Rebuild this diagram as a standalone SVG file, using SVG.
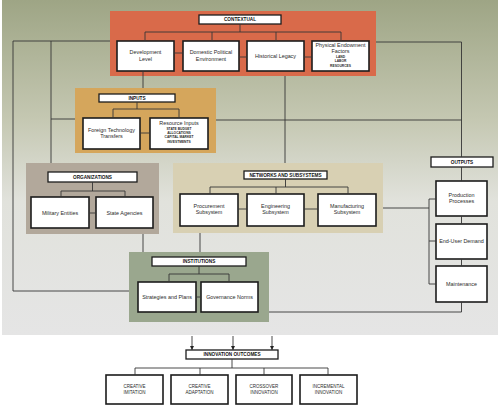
<svg xmlns="http://www.w3.org/2000/svg" width="500" height="407" viewBox="0 0 500 407">
<defs>
<linearGradient id="bg" x1="0" y1="0" x2="0" y2="335" gradientUnits="userSpaceOnUse">
<stop offset="0" stop-color="#9ea585"/>
<stop offset="0.35" stop-color="#c4c7b1"/>
<stop offset="0.6" stop-color="#e1e2dc"/>
<stop offset="1" stop-color="#e5e5e5"/>
</linearGradient>
<marker id="ah" viewBox="0 0 6 6" refX="6" refY="3" markerWidth="4.5" markerHeight="4.5" markerUnits="userSpaceOnUse" orient="auto">
<path d="M0,0 L6,3 L0,6 z" fill="#222"/>
</marker>
<style>
.box{fill:#fff;stroke:#1c1c1c;stroke-width:1.6}
.tbox{fill:#fff;stroke:#1c1c1c;stroke-width:1.3}
.t{font-family:"Liberation Sans",Arial,sans-serif;font-size:5.4px;fill:#2a2a2a;text-anchor:middle}
.h{font-weight:bold;font-size:4.7px;fill:#111}
.s{font-weight:bold;font-size:3.3px}
.o{font-size:4.5px}
.ln{fill:none;stroke:#353535;stroke-width:0.9}
</style>
</defs>
<rect x="0" y="0" width="500" height="407" fill="#fff"/>
<rect x="2" y="0" width="496" height="335" fill="url(#bg)"/>

<g id="contextual">
<rect x="110" y="11" width="266" height="65" fill="#d96a4a"/>
<rect class="tbox" x="199" y="15" width="82" height="9"/>
<text class="t h" x="240" y="21.3">CONTEXTUAL</text>
<g id="development-level"><rect class="box" x="117" y="41" width="57" height="30"/>
<text class="t" x="145.5" y="54">Development</text><text class="t" x="145.5" y="60.5">Level</text></g>
<g id="domestic-political"><rect class="box" x="183" y="41" width="56" height="30"/>
<text class="t" x="211" y="54">Domestic Political</text><text class="t" x="211" y="60.5">Environment</text></g>
<g id="historical-legacy"><rect class="box" x="247" y="41" width="57" height="30"/>
<text class="t" x="275.5" y="57.5">Historical Legacy</text></g>
<g id="physical-endowment"><rect class="box" x="312" y="41" width="57" height="30"/>
<text class="t" x="340.5" y="46.8">Physical Endowment</text><text class="t" x="340.5" y="52.5">Factors</text>
<text class="t s" x="340.5" y="58">LAND</text><text class="t s" x="340.5" y="62.3">LABOR</text><text class="t s" x="340.5" y="66.6">RESOURCES</text></g>
</g>

<g id="inputs">
<rect x="75" y="88" width="141" height="65" fill="#d5a65c"/>
<rect class="tbox" x="99" y="94" width="76" height="8"/>
<text class="t h" x="137" y="99.6">INPUTS</text>
<g id="foreign-technology"><rect class="box" x="83" y="118" width="57" height="31"/>
<text class="t" x="111.5" y="131.5">Foreign Technology</text><text class="t" x="111.5" y="137.8">Transfers</text></g>
<g id="resource-inputs"><rect class="box" x="150" y="118" width="58" height="31"/>
<text class="t" x="179" y="124.5">Resource Inputs</text>
<text class="t s" x="179" y="129.6">STATE BUDGET</text><text class="t s" x="179" y="133.9">ALLOCATIONS</text>
<text class="t s" x="179" y="138.2">CAPITAL MARKET</text><text class="t s" x="179" y="142.5">INVESTMENTS</text></g>
</g>

<g id="organizations">
<rect x="26" y="163" width="133" height="71" fill="#b2a89b"/>
<rect class="tbox" x="48" y="172" width="89" height="10"/>
<text class="t h" x="92.5" y="178.8">ORGANIZATIONS</text>
<g id="military-entities"><rect class="box" x="31" y="197" width="58" height="31"/>
<text class="t" x="60" y="214.5">Military Entities</text></g>
<g id="state-agencies"><rect class="box" x="96" y="197" width="57" height="31"/>
<text class="t" x="124.5" y="214.5">State Agencies</text></g>
</g>

<g id="networks">
<rect x="173" y="163" width="210" height="70" fill="#d8d0b3"/>
<rect class="tbox" x="244" y="171" width="83" height="8"/>
<text class="t h" x="285.5" y="176.6">NETWORKS AND SUBSYSTEMS</text>
<g id="procurement"><rect class="box" x="180" y="194" width="58" height="32"/>
<text class="t" x="209" y="207.5">Procurement</text><text class="t" x="209" y="213.8">Subsystem</text></g>
<g id="engineering"><rect class="box" x="247" y="194" width="57" height="32"/>
<text class="t" x="275.5" y="207.5">Engineering</text><text class="t" x="275.5" y="213.8">Subsystem</text></g>
<g id="manufacturing"><rect class="box" x="318" y="194" width="58" height="32"/>
<text class="t" x="347" y="207.5">Manufacturing</text><text class="t" x="347" y="213.8">Subsystem</text></g>
</g>

<g id="institutions">
<rect x="129" y="252" width="140" height="70" fill="#9aa78e"/>
<rect class="tbox" x="152" y="257" width="94" height="9"/>
<text class="t h" x="199" y="263.3">INSTITUTIONS</text>
<g id="strategies"><rect class="box" x="138" y="282" width="58" height="30"/>
<text class="t" x="167" y="298.8">Strategies and Plans</text></g>
<g id="governance"><rect class="box" x="201" y="282" width="57" height="30"/>
<text class="t" x="229.5" y="298.8">Governance Norms</text></g>
</g>

<g id="outputs">
<rect class="tbox" x="431" y="157" width="62" height="10"/>
<text class="t h" x="462" y="163.7">OUTPUTS</text>
<g id="production"><rect class="box" x="436" y="181" width="51" height="35"/>
<text class="t" x="461.5" y="197">Production</text><text class="t" x="461.5" y="203.3">Processes</text></g>
<g id="end-user"><rect class="box" x="436" y="224" width="51" height="35"/>
<text class="t" x="461.5" y="243.3">End-User Demand</text></g>
<g id="maintenance"><rect class="box" x="436" y="266" width="51" height="36"/>
<text class="t" x="461.5" y="285.8">Maintenance</text></g>
</g>

<g id="innovation-outcomes">
<rect class="tbox" x="186" y="350" width="92" height="9"/>
<text class="t h" x="232" y="356.3">INNOVATION OUTCOMES</text>
<g id="creative-imitation"><rect class="box" x="106" y="375" width="57" height="29"/>
<text class="t o" x="134.5" y="388.2">CREATIVE</text><text class="t o" x="134.5" y="394">IMITATION</text></g>
<g id="creative-adaptation"><rect class="box" x="171" y="375" width="57" height="29"/>
<text class="t o" x="199.5" y="388.2">CREATIVE</text><text class="t o" x="199.5" y="394">ADAPTATION</text></g>
<g id="crossover-innovation"><rect class="box" x="236" y="375" width="56" height="29"/>
<text class="t o" x="264" y="388.2">CROSSOVER</text><text class="t o" x="264" y="394">INNOVATION</text></g>
<g id="incremental-innovation"><rect class="box" x="300" y="375" width="57" height="29"/>
<text class="t o" x="328.5" y="388.2">INCREMENTAL</text><text class="t o" x="328.5" y="394">INNOVATION</text></g>
</g>

<g id="connectors">
<path class="ln" d="M240,24V32M145,41V32H341V41M212,32V41M276,32V41M174,53H183M239,57H247M304,57H312"/>
<path class="ln" d="M137,102V109M113,118V109H179V118M140,133H150"/>
<path class="ln" d="M92.5,182V191M61,197V191H125V197M89,213H96"/>
<path class="ln" d="M285.5,179V187M210,194V187H348V194M276,187V194M238,209H247M304,209H318"/>
<path class="ln" d="M199,266V274M169,282V274H229V282M196,297H201"/>
<path class="ln" d="M232,359V368M135,375V368H328V375M200,368V375M264,368V375"/>
<path class="ln" d="M110,41H13V291H129"/>
<path class="ln" d="M51,41V163M51,119H75"/>
<path class="ln" d="M376,42H461.5V157"/>
<path class="ln" d="M216,120H461.5"/>
<path class="ln" d="M143,71V88"/>
<path class="ln" d="M285,76V163"/>
<path class="ln" d="M143,234V252"/>
<path class="ln" d="M200,233V252"/>
<path class="ln" d="M383,208H429M429,199V284M429,199H436M429,241H436M429,284H436"/>
<path class="ln" d="M461.5,167V181M461.5,216V224M461.5,259V266M461.5,302V312H269"/>
<path class="ln" d="M192,336V350" marker-end="url(#ah)"/>
<path class="ln" d="M233,336V350" marker-end="url(#ah)"/>
<path class="ln" d="M272,336V350" marker-end="url(#ah)"/>
</g>
</svg>
